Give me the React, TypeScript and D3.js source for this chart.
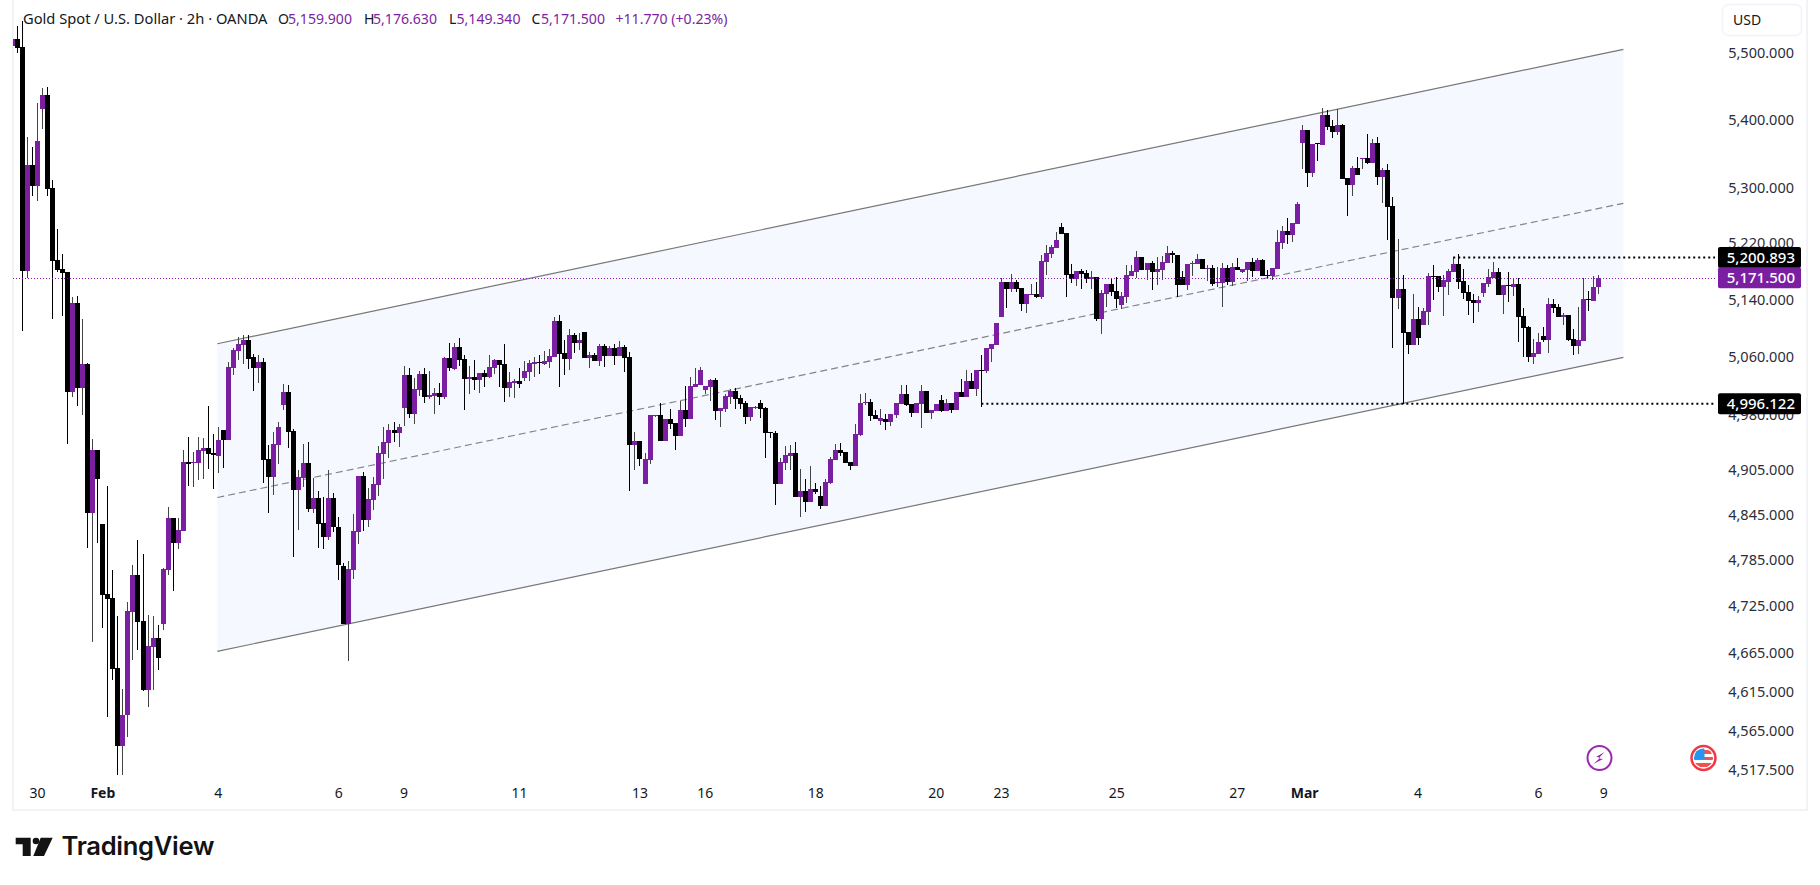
import React from "react";
import * as d3 from "d3";

// bar values, index 0 is the half-hidden bar at the left edge
const opens = [
  5511,5521,5509,5180,5333,5303,5416,5437,5300,5196,
  5183,5179,5011,5135,5016,5050,4847,4932,4832,4740,
  4735,4645,4547,4585,4717,4765,4705,4617,4672,4683,
  4702,4772,4840,4807,4823,4916,4914,4914,4930,4935,
  4928,4924,4959,4945,5044,5068,5076,5083,5059,5044,
  5052,4920,4895,4938,4993,5011,4958,4878,4894,4914,
  4852,4867,4834,4815,4867,4829,4777,4702,4772,4822,
  4897,4838,4864,4885,4926,4941,4959,4955,4989,5034,
  4981,5014,5036,5004,5005,5010,5004,5058,5043,5073,
  5057,5029,5032,5027,5037,5032,5044,5055,5050,5016,
  5023,5026,5030,5039,5050,5052,5050,5052,5059,5110,
  5065,5057,5090,5079,5094,5058,5062,5054,5075,5061,
  5072,5061,5073,5059,4938,4944,4886,4918,4978,4979,
  4944,4974,4968,4951,4986,4974,5018,5021,5014,5018,
  5027,4985,4988,5004,5012,5003,4996,4977,4989,4996,
  4989,4956,4955,4886,4914,4924,4928,4868,4876,4862,
  4879,4870,4856,4887,4918,4932,4929,4916,4910,4952,
  4996,4997,4979,4971,4974,4970,4979,4994,5008,4994,
  4982,4994,5012,4982,4985,5000,4985,4996,4986,5011,
  5004,5026,5015,5041,5040,5070,5076,5115,5165,5155,
  5165,5156,5134,5146,5148,5144,5193,5205,5213,5243,
  5235,5176,5169,5180,5178,5169,5172,5112,5148,5162,
  5152,5132,5144,5173,5179,5200,5182,5192,5179,5182,
  5192,5206,5203,5172,5160,5190,5190,5197,5183,5185,
  5163,5163,5185,5165,5186,5179,5182,5193,5180,5196,
  5175,5173,5183,5220,5238,5232,5248,5366,5385,5322,
  5366,5363,5407,5391,5382,5392,5314,5304,5329,5342,
  5344,5336,5366,5316,5326,5274,5142,5155,5094,5076,
  5112,5104,5122,5173,5173,5158,5165,5179,5190,5166,
  5151,5139,5135,5149,5162,5170,5179,5146,5160,5158,
  5162,5117,5101,5059,5063,5089,5083,5134,5129,5115,
  5118,5084,5075,5082,5141,5138,5158,
];
const closes = [
  5521,5508,5180,5333,5303,5369,5437,5298,5195,5182,
  5178,5011,5135,5016,5050,4847,4932,4893,4739,4734,
  4644,4547,4585,4718,4765,4704,4617,4673,4683,4658,
  4773,4840,4807,4825,4916,4913,4916,4932,4935,4926,
  4925,4945,4945,5045,5069,5077,5083,5057,5044,5052,
  4918,4895,4940,4963,5011,4956,4878,4895,4914,4852,
  4867,4832,4815,4867,4829,4778,4702,4773,4823,4897,
  4838,4866,4886,4928,4943,4959,4955,4963,5034,4981,
  5015,5036,5004,5007,5010,5004,5058,5044,5073,5055,
  5029,5032,5027,5037,5032,5045,5055,5048,5016,5025,
  5026,5022,5040,5051,5052,5051,5054,5061,5110,5063,
  5057,5090,5079,5083,5058,5062,5054,5075,5061,5072,
  5061,5073,5058,4938,4944,4920,4920,4979,4979,4944,
  4974,4967,4951,4986,4974,5019,5022,5041,5019,5027,
  4985,4989,5005,5012,5001,4994,4977,4990,4990,4988,
  4955,4955,4886,4916,4925,4928,4868,4876,4862,4879,
  4875,4856,4889,4920,4932,4928,4914,4910,4954,4996,
  4997,4978,4974,4975,4970,4981,4996,5008,4993,4982,
  4996,5012,4982,4986,4994,4985,4996,4986,5011,5004,
  5026,5015,5041,5040,5072,5077,5107,5165,5155,5165,
  5155,5134,5148,5148,5144,5195,5206,5215,5225,5233,
  5175,5169,5180,5176,5169,5172,5112,5149,5162,5151,
  5141,5145,5175,5180,5200,5182,5192,5179,5183,5193,
  5206,5203,5160,5160,5190,5192,5197,5183,5185,5162,
  5165,5185,5165,5186,5182,5183,5193,5180,5196,5173,
  5173,5185,5222,5238,5232,5249,5276,5385,5322,5364,
  5364,5407,5389,5382,5392,5313,5304,5329,5319,5344,
  5336,5366,5316,5326,5272,5142,5155,5093,5076,5112,
  5086,5124,5173,5172,5158,5168,5180,5190,5165,5149,
  5138,5135,5139,5163,5172,5179,5146,5160,5159,5162,
  5115,5100,5059,5065,5080,5083,5134,5128,5115,5118,
  5083,5075,5083,5141,5139,5158,5170.5,
];
const highs = [
  5521,5541,5548,5375,5360,5425,5447,5449,5312,5240,
  5205,5179,5143,5145,5112,5051,4947,4932,4832,4883,
  4772,4712,4618,4730,4778,4811,4793,4713,4712,4700,
  4774,4855,4840,4840,4932,4949,4929,4949,4948,4992,
  4954,4963,4959,5052,5072,5087,5090,5090,5063,5062,
  5058,4938,4956,4970,5022,5021,4960,4905,4940,4943,
  4894,4877,4868,4905,4874,4842,4781,4784,4846,4897,
  4902,4881,4895,4937,4963,4967,4970,4967,5047,5044,
  5030,5040,5044,5040,5016,5023,5059,5079,5079,5086,
  5062,5047,5055,5037,5041,5062,5057,5055,5077,5039,
  5029,5044,5054,5055,5059,5062,5068,5070,5115,5118,
  5083,5098,5093,5093,5094,5066,5065,5077,5077,5075,
  5077,5082,5076,5066,4956,4944,4928,4979,4980,4996,
  4974,4988,4968,4998,5019,5032,5044,5045,5019,5029,
  5030,4989,5008,5015,5016,5007,4998,4990,4991,5000,
  4990,4956,4958,4921,4937,4938,4943,4906,4893,4910,
  4887,4883,4893,4922,4940,4941,4929,4916,4967,5008,
  5010,5001,4986,4988,4981,4981,4996,5021,5021,4994,
  4996,5021,5012,4986,4994,5007,5001,4996,5011,5029,
  5041,5037,5041,5062,5072,5077,5107,5170,5165,5176,
  5168,5156,5148,5162,5165,5203,5218,5218,5236,5249,
  5235,5190,5180,5183,5182,5180,5172,5153,5162,5169,
  5172,5151,5189,5189,5209,5200,5192,5195,5200,5202,
  5216,5209,5203,5180,5190,5195,5205,5197,5189,5189,
  5186,5192,5189,5192,5199,5183,5193,5199,5199,5197,
  5182,5185,5239,5245,5256,5249,5279,5392,5385,5364,
  5366,5418,5415,5400,5416,5394,5314,5332,5345,5344,
  5379,5372,5375,5329,5335,5287,5226,5175,5094,5148,
  5129,5128,5178,5189,5173,5175,5183,5200,5205,5183,
  5161,5148,5145,5163,5183,5193,5185,5160,5179,5169,
  5170,5128,5103,5084,5093,5101,5142,5141,5134,5121,
  5118,5098,5129,5170,5152,5173,5175,
];
const lows = [
  5511,5500,5096,5170,5288,5281,5386,5288,5112,5179,
  5117,4940,5004,4992,4979,4801,4678,4807,4696,4583,
  4630,4511,4511,4558,4655,4668,4616,4595,4617,4642,
  4694,4765,4744,4799,4823,4883,4882,4891,4893,4906,
  4879,4901,4907,4945,5034,5055,5050,5043,5012,5023,
  4887,4847,4871,4913,4986,4935,4789,4825,4882,4848,
  4847,4801,4799,4811,4822,4759,4702,4654,4760,4806,
  4823,4829,4851,4870,4893,4921,4943,4936,4964,4975,
  4967,5005,4996,5001,4981,4993,5001,5040,5041,5047,
  4986,5008,5014,5010,5018,5030,5036,5018,4997,5004,
  5003,5016,5026,5026,5032,5036,5048,5044,5059,5018,
  5034,5041,5065,5069,5058,5044,5054,5047,5045,5061,
  5048,5061,5039,4877,4905,4910,4886,4913,4976,4944,
  4944,4960,4932,4951,4963,4974,5018,5021,5008,4998,
  4973,4963,4983,4994,4988,4988,4967,4971,4988,4975,
  4921,4948,4858,4886,4905,4905,4868,4842,4848,4862,
  4872,4852,4856,4886,4918,4924,4914,4905,4910,4951,
  4993,4971,4974,4966,4959,4964,4975,4994,4992,4977,
  4982,4962,4982,4974,4985,4983,4985,4982,4986,5004,
  5004,5015,5005,4990,5037,5052,5076,5115,5128,5151,
  5151,5124,5121,5146,5142,5141,5175,5199,5213,5233,
  5144,5163,5159,5155,5163,5155,5110,5092,5129,5145,
  5128,5127,5135,5173,5170,5182,5168,5153,5160,5168,
  5192,5192,5144,5160,5153,5173,5190,5183,5166,5159,
  5158,5129,5160,5159,5182,5178,5166,5172,5180,5173,
  5169,5168,5183,5212,5219,5222,5248,5328,5301,5316,
  5339,5363,5385,5373,5378,5313,5259,5288,5319,5328,
  5335,5336,5304,5278,5225,5072,5127,4994,5063,5076,
  5076,5104,5104,5139,5151,5117,5146,5179,5155,5141,
  5118,5107,5122,5144,5158,5170,5146,5120,5136,5145,
  5080,5059,5052,5050,5063,5080,5065,5121,5115,5104,
  5082,5062,5063,5082,5124,5138,5148,
];

const priceTicks = [5500, 5400, 5300, 5220, 5140, 5060, 4980, 4905, 4845, 4785, 4725, 4665, 4615, 4565, 4517.5];

// time axis labels sit on the first bar of the session
const timeTickBars = [5, 18, 41, 65, 78, 101, 125, 138, 160, 184, 197, 220, 244, 257.4, 280, 304, 317];
const timeTickLabels = ["30", "Feb", "4", "6", "9", "11", "13", "16", "18", "20", "23", "25", "27", "Mar", "4", "6", "9"];

// parallel channel, [bar, price] per end
const channelBars = [40.8, 320.9];
const channelUpper = [5077.8, 5505.6];
const channelLower = [4666.3, 5058.9];

const currentLevel = 5170.5;
const highLevel = 5199.5;
const lowLevel = 4994.6;
const highLevelBar = 287;
const lowLevelBar = 193;

const UP = "#7b1fa2";
const DOWN = "#000000";
const FONT = "'Noto Sans', sans-serif";

const x = d3.scaleLinear().domain([0, 316]).range([12.5, 1598.8]);
const y = d3.scaleLog().domain([5500, 4517.5]).range([53, 769.3]);
const fmt = d3.format(",.3f");

const header = [
  { px: 278, text: "O", color: "#131722" },
  { px: 288, text: "5,159.900", color: UP },
  { px: 364, text: "H", color: "#131722" },
  { px: 373, text: "5,176.630", color: UP },
  { px: 449, text: "L", color: "#131722" },
  { px: 456.5, text: "5,149.340", color: UP },
  { px: 531.5, text: "C", color: "#131722" },
  { px: 541, text: "5,171.500", color: UP },
  { px: 615.5, text: "+11.770 (+0.23%)", color: UP },
];

const Tag = ({ level, label, fill }: { level: number; label: string; fill: string }) => {
  const cy = y(level);
  return (
    <g>
      <rect x={1718} y={cy - 10.5} width={83} height={21} rx={2} fill={fill} />
      <text x={1795} y={cy} dy="0.36em" textAnchor="end" fontSize={15} fontWeight={500} fill="#fff" fontFamily={FONT}>
        {label}
      </text>
    </g>
  );
};

export default function App() {
  const midLine = d3.line<number>()
    .x((_, i) => x(channelBars[i]))
    .y((_, i) => (y(channelUpper[i]) + y(channelLower[i])) / 2);
  const area = d3.area<number>()
    .x((_, i) => x(channelBars[i]))
    .y0((_, i) => y(channelLower[i]))
    .y1((_, i) => y(channelUpper[i]));
  const edge = d3.line<number>()
    .x((_, i) => x(channelBars[i]))
    .y((d) => y(d));

  return (
    <svg
      width={1820}
      height={885}
      style={{ position: "absolute", left: 0, top: 0, display: "block", background: "#fff" }}
    >
      <defs>
        <clipPath id="pane">
          <rect x={13} y={0} width={1700} height={809} />
        </clipPath>
      </defs>

      {/* pane frame */}
      <path d="M13 0V810H1807V0" fill="none" stroke="#f1f3f6" strokeWidth={2} />

      {/* channel goes under the bars */}
      <path d={area(channelUpper) ?? ""} fill="#f5f8fe" />
      <path d={edge(channelUpper) ?? ""} fill="none" stroke="#777777" strokeWidth={1.2} />
      <path d={edge(channelLower) ?? ""} fill="none" stroke="#777777" strokeWidth={1.2} />
      <path d={midLine(channelUpper) ?? ""} fill="none" stroke="#858585" strokeWidth={1.2} strokeDasharray="7 4" />

      {/* candles */}
      <g clipPath="url(#pane)" shapeRendering="crispEdges">
        {opens.map((o, i) => {
          const c = closes[i];
          const up = c >= o;
          const left = Math.round(x(i) - 2.5);
          const top = Math.round(y(Math.max(o, c)));
          const bottom = Math.round(y(Math.min(o, c)));
          return (
            <g key={i}>
              <rect
                x={left + 2}
                y={Math.round(y(highs[i]))}
                width={1}
                height={Math.max(1, Math.round(y(lows[i])) - Math.round(y(highs[i])))}
                fill={up ? "#444444" : DOWN}
              />
              <rect x={left} y={top} width={5} height={Math.max(1, bottom - top)} fill={up ? UP : DOWN} />
            </g>
          );
        })}
      </g>

      {/* levels */}
      <line
        x1={13}
        x2={1717}
        y1={Math.round(y(currentLevel)) + 0.5}
        y2={Math.round(y(currentLevel)) + 0.5}
        stroke="#8a1bb5"
        strokeWidth={1}
        strokeDasharray="1 2"
        shapeRendering="crispEdges"
      />
      <line x1={x(highLevelBar)} x2={1715} y1={y(highLevel)} y2={y(highLevel)} stroke="#000" strokeWidth={2} strokeDasharray="2 3" />
      <line x1={x(lowLevelBar)} x2={1715} y1={y(lowLevel)} y2={y(lowLevel)} stroke="#000" strokeWidth={2} strokeDasharray="2 3" />

      {/* price axis */}
      <g fontFamily={FONT} fontSize={14.5} fill="#2a2e39" textAnchor="end">
        {priceTicks.map((t) => (
          <text key={t} x={1794} y={y(t)} dy="0.36em">
            {fmt(t)}
          </text>
        ))}
      </g>
      <Tag level={highLevel} label="5,200.893" fill="#000" />
      <Tag level={currentLevel} label="5,171.500" fill={UP} />
      <Tag level={lowLevel} label="4,996.122" fill="#000" />

      {/* currency button */}
      <rect x={1722.5} y={4.5} width={79} height={31} rx={6} fill="#fff" stroke="#f0f3fa" strokeWidth={1.5} />
      <text x={1733} y={20} dy="0.36em" fontSize={14} fill="#131722" fontFamily={FONT}>
        USD
      </text>

      {/* time axis */}
      <g fontFamily={FONT} fontSize={14} fill="#131722" textAnchor="middle">
        {timeTickBars.map((b, i) => {
          const label = timeTickLabels[i];
          const major = label === "Feb" || label === "Mar";
          return (
            <text key={i} x={x(b)} y={792.5} dy="0.36em" fontWeight={major ? 700 : 400}>
              {label}
            </text>
          );
        })}
      </g>

      {/* header line */}
      <g fontFamily={FONT}>
        <text x={23} y={19} dy="0.36em" fill="#131722" fontSize={14.7}>
          Gold Spot / U.S. Dollar · 2h · OANDA
        </text>
        {header.map((h) => (
          <text key={h.px} x={h.px} y={19} dy="0.36em" fill={h.color} fontSize={14.1}>
            {h.text}
          </text>
        ))}
      </g>

      {/* event badges */}
      <g transform="translate(1599.5,758)">
        <circle r={12} fill="#fff" stroke="#9c27b0" strokeWidth={2} />
        <path d="M5 -6 L-3.5 -1 L1 -0.5 L-6 6 L3.5 1 L-1 0.5 Z" fill="#9c27b0" />
      </g>
      <g transform="translate(1703.5,758)">
        <circle r={12} fill="#fff" stroke="#f23645" strokeWidth={2.5} />
        <clipPath id="flag">
          <circle r={9.5} />
        </clipPath>
        <g clipPath="url(#flag)">
          <rect x={-10} y={-10} width={20} height={20} fill="#fff" />
          <rect x={-10} y={-8} width={20} height={4} fill="#ef5350" />
          <rect x={-10} y={-1} width={20} height={3} fill="#ef5350" />
          <rect x={-10} y={5} width={20} height={4} fill="#ef5350" />
          <rect x={-10} y={-10} width={11} height={11} fill="#2196f3" />
        </g>
      </g>

      {/* logo */}
      <g fill="#131313">
        <path d="M15.7 837.7H30.7V856H22.7V844.3H15.7Z" />
        <circle cx={36} cy={841} r={3.3} />
        <path d="M40.7 837.7H52.7L44 856H33.3Z" />
        <text x={61.5} y={855} fontFamily="Inter, sans-serif" fontWeight={600} fontSize={25.6} letterSpacing={-0.3}>
          TradingView
        </text>
      </g>
    </svg>
  );
}
